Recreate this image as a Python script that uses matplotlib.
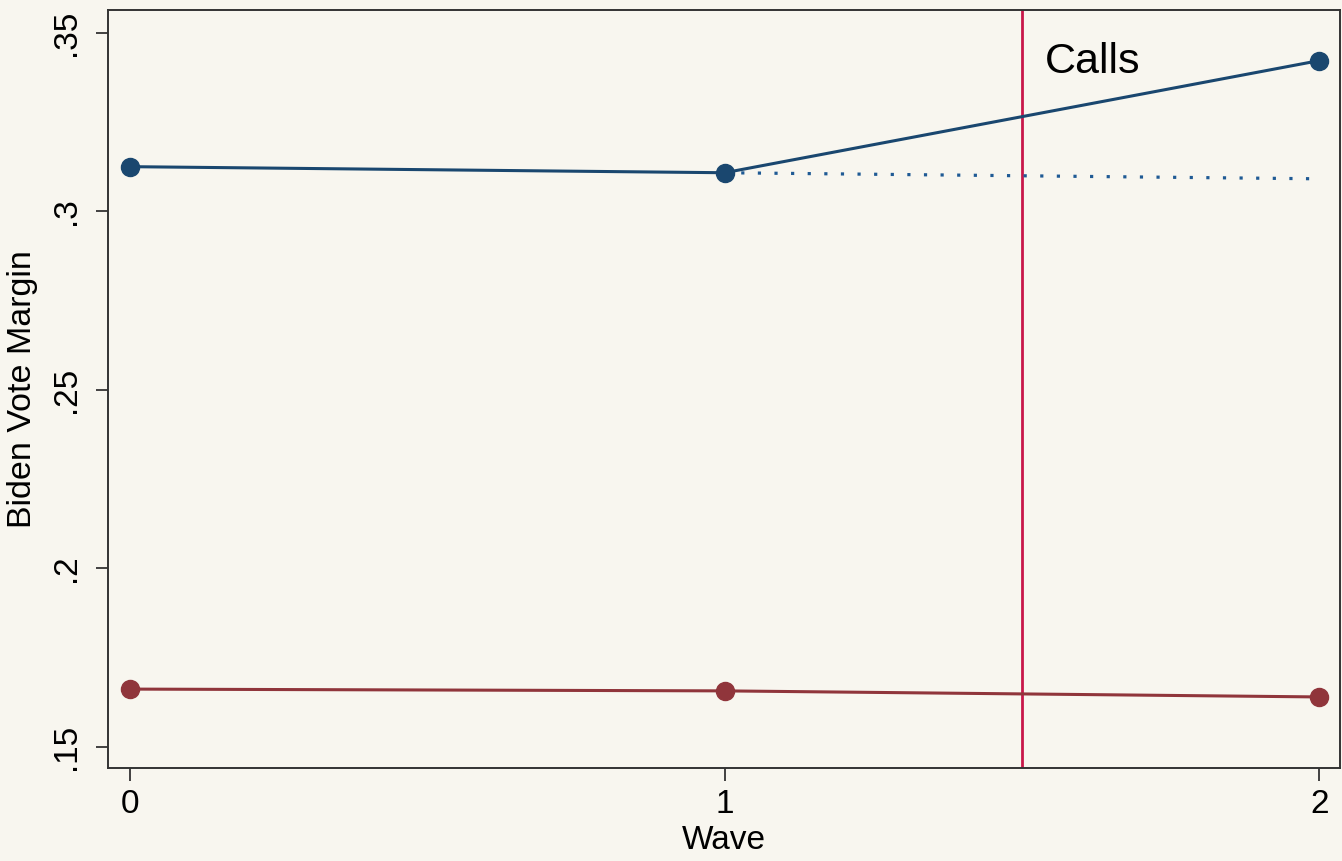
import matplotlib.pyplot as plt

plt.rcParams['font.family'] = ['Liberation Sans', 'DejaVu Sans']

waves = [0, 1, 2]
calls_margin = [0.3125, 0.3108, 0.3422]
control_margin = [0.1662, 0.1657, 0.1640]
# counterfactual trend after wave 1
trend_waves = [1, 2]
trend_margin = [0.3108, 0.3091]
calls_start = 1.5

bg = "#f8f6ef"
navy = "#1a476f"
maroon = "#90353b"

fig = plt.figure(figsize=(13.42, 8.61), dpi=100, facecolor=bg)
ax = fig.add_axes([0.0805, 0.108, 0.918, 0.8805])
ax.set_facecolor(bg)

ax.plot(waves, calls_margin, color=navy, lw=2.2, marker="o", ms=13, zorder=3)
ax.plot(trend_waves, trend_margin, color="#1f5a94", lw=2.3,
        linestyle=(0, (1, 4.2)), dash_capstyle="butt", zorder=2)
ax.plot(waves, control_margin, color=maroon, lw=2.2, marker="o", ms=13, zorder=3)
ax.axvline(calls_start, color="#c8174a", lw=2, zorder=1)
ax.text(1.539, 0.3419, "Calls", fontsize=31, ha="left", va="center")

ax.set_xlim(-0.037, 2.035)
ax.set_ylim(0.1441, 0.3564)
ax.set_xticks(waves)
ax.set_xticklabels(["0", "1", "2"])
ax.set_yticks([0.15, 0.2, 0.25, 0.3, 0.35])
ax.set_yticklabels([".15", ".2", ".25", ".3", ".35"], rotation=90, va="center")
ax.tick_params(axis="both", labelsize=24, length=9, width=1.3, color="#333333")
ax.tick_params(axis="y", pad=10)
ax.tick_params(axis="x", pad=6)
for s in ax.spines.values():
    s.set_color("#333333")
    s.set_linewidth(1.4)

ax.set_xlabel("Wave", fontsize=24, labelpad=4)
ax.set_ylabel("Biden Vote Margin", fontsize=24.5, labelpad=9)

fig.savefig("out.png", dpi=100, facecolor=bg)
